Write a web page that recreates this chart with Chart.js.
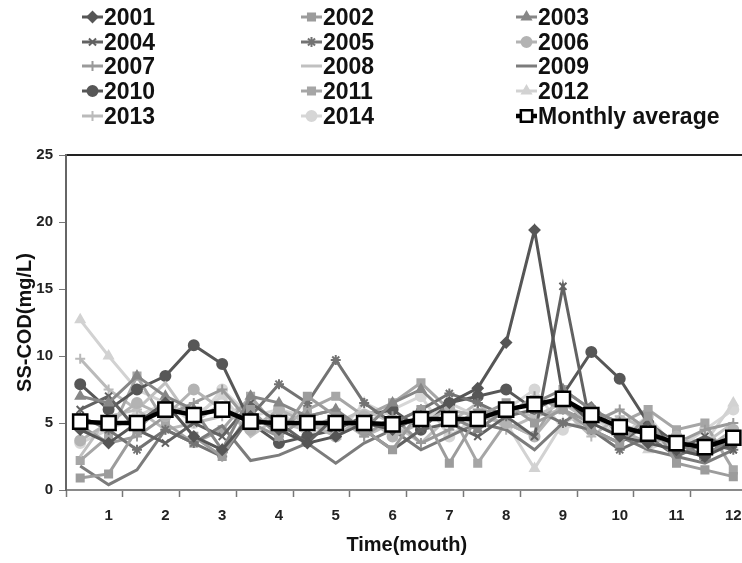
<!DOCTYPE html>
<html>
<head>
<meta charset="utf-8">
<script src="https://cdn.jsdelivr.net/npm/chart.js@4.4.1/dist/chart.umd.min.js"></script>
<style>
html, body { margin: 0; padding: 0; background: #fff; overflow: hidden; width: 742px; height: 563px; }
#wrap { position: absolute; left: 0; top: 0; width: 760px; height: 563px; }
#legend { position: absolute; left: 0; top: 0; width: 742px; height: 135px;
  font-family: "Liberation Sans", Arial, sans-serif; font-weight: bold; font-size: 23px; color: #111; }
.item { position: absolute; height: 24px; display: flex; align-items: center; white-space: nowrap; }
.item canvas { margin-right: 1px; }
</style>
</head>
<body>
<div id="wrap"><canvas id="chart"></canvas></div>
<div id="legend"></div>
<script>
// Two readings per month, month number shown under the second one
const months = ['1', '2', '3', '4', '5', '6', '7', '8', '9', '10', '11', '12'];
const halfMonthLabels = months.flatMap(m => ['', m]);

const years = ['2001', '2002', '2003', '2004', '2005', '2006', '2007',
               '2008', '2009', '2010', '2011', '2012', '2013', '2014'];

// SS-COD (mg/L) per half month
const s2001 = [4.5, 3.5, 5.0, 6.5, 4.0, 3.0, 5.5, 4.5, 3.5, 4.0, 5.0, 4.5, 5.5, 6.5, 7.6, 11.0, 19.4, 7.0, 5.0, 4.0, 3.5, 3.0, 2.5, 3.5];
const s2002 = [0.9, 1.2, 4.5, 6.5, 4.0, 2.5, 6.0, 4.0, 7.0, 5.5, 4.5, 3.0, 6.0, 2.0, 5.5, 6.5, 5.0, 6.0, 4.5, 3.5, 5.5, 2.0, 1.5, 1.0];
const s2003 = [7.0, 6.5, 8.5, 7.0, 6.0, 3.0, 7.0, 6.5, 5.5, 6.0, 4.5, 6.5, 7.5, 5.5, 4.5, 6.0, 6.5, 7.5, 6.0, 5.0, 4.0, 3.5, 2.5, 4.0];
const s2004 = [6.0, 7.0, 4.5, 3.5, 5.0, 4.0, 6.5, 5.0, 3.5, 5.5, 4.5, 3.0, 4.5, 5.0, 4.0, 5.5, 4.0, 15.2, 4.5, 3.5, 5.0, 3.0, 4.0, 3.0];
const s2005 = [5.5, 4.5, 3.0, 4.5, 3.5, 2.5, 5.5, 7.9, 6.5, 9.7, 6.5, 5.0, 6.0, 7.2, 6.5, 5.5, 6.0, 5.0, 4.5, 3.0, 4.0, 2.5, 3.5, 3.0];
const s2006 = [3.7, 5.0, 6.5, 5.5, 7.5, 6.0, 4.5, 6.0, 5.0, 4.0, 5.5, 4.0, 5.0, 6.0, 5.5, 5.0, 4.0, 6.5, 5.5, 4.5, 3.5, 4.0, 3.0, 4.5];
const s2007 = [4.8, 3.5, 4.0, 5.5, 6.5, 7.5, 5.0, 4.0, 5.5, 6.0, 4.0, 5.5, 3.5, 4.5, 6.0, 5.5, 7.0, 6.0, 5.0, 6.0, 4.5, 3.5, 4.5, 5.0];
const s2008 = [2.5, 5.5, 6.0, 8.0, 5.0, 6.5, 4.0, 5.5, 4.5, 5.0, 6.0, 5.0, 3.5, 5.5, 4.5, 6.0, 5.5, 6.5, 5.0, 4.0, 4.5, 3.0, 3.5, 5.0];
const s2009 = [1.8, 0.4, 1.5, 4.5, 3.5, 4.8, 2.2, 2.6, 3.5, 2.0, 3.5, 4.5, 3.0, 4.0, 5.0, 4.5, 3.0, 5.0, 6.5, 4.0, 3.0, 2.5, 2.0, 3.0];
const s2010 = [7.9, 6.0, 7.5, 8.5, 10.8, 9.4, 5.0, 3.5, 4.0, 4.5, 5.5, 6.0, 4.5, 6.5, 7.0, 7.5, 6.0, 7.1, 10.3, 8.3, 5.0, 3.5, 2.5, 4.0];
const s2011 = [2.2, 4.0, 8.5, 5.0, 3.5, 4.5, 7.0, 4.5, 6.0, 7.0, 5.5, 6.5, 8.0, 6.0, 2.0, 5.0, 4.0, 7.5, 6.0, 5.0, 6.0, 4.5, 5.0, 1.5];
const s2012 = [12.7, 10.0, 7.5, 6.5, 5.5, 7.0, 4.5, 6.0, 5.5, 4.0, 6.5, 5.5, 5.0, 6.5, 5.5, 5.0, 1.6, 5.0, 6.0, 4.5, 3.0, 4.0, 3.5, 6.5];
const s2013 = [9.8, 7.5, 6.0, 4.5, 5.0, 5.5, 6.5, 5.0, 4.5, 5.5, 4.0, 5.0, 6.0, 5.0, 6.5, 4.5, 5.5, 6.0, 4.0, 5.5, 4.5, 3.0, 2.5, 4.0];
const s2014 = [3.5, 4.5, 5.5, 6.5, 5.0, 7.5, 5.5, 6.0, 4.0, 5.0, 5.0, 6.0, 7.0, 4.0, 5.5, 6.0, 7.5, 4.5, 5.5, 4.0, 5.5, 3.0, 4.5, 6.0];
const monthlyAverage = [5.1, 5.0, 5.0, 6.0, 5.6, 6.0, 5.1, 5.0, 5.0, 5.0, 5.0, 4.9, 5.3, 5.3, 5.3, 6.0, 6.4, 6.8, 5.6, 4.7, 4.2, 3.5, 3.2, 3.9];

const yTicks = [0, 5, 10, 15, 20, 25];

const yearSeries = [s2001, s2002, s2003, s2004, s2005, s2006, s2007,
                    s2008, s2009, s2010, s2011, s2012, s2013, s2014];

// grey shade and marker of every year
const yearColors = ['#565656', '#9c9c9c', '#878787', '#626262', '#737373', '#b3b3b3', '#9a9a9a',
                    '#c0c0c0', '#7c7c7c', '#575757', '#a6a6a6', '#d2d2d2', '#bababa', '#d6d6d6'];
const yearMarkers = ['rectRot', 'rect', 'triangle', 'crossRot', 'star', 'circle', 'cross',
                     null, null, 'circle', 'rect', 'triangle', 'cross', 'circle'];

const fontFamily = '"Liberation Sans", Arial, sans-serif';
Chart.defaults.font.family = fontFamily;

const datasets = yearSeries.map((values, i) => ({
    label: years[i],
    data: values,
    borderColor: yearColors[i],
    backgroundColor: yearColors[i],
    borderWidth: 3,
    pointStyle: yearMarkers[i] || 'circle',
    pointRadius: yearMarkers[i] ? 5 : 0,
    pointBorderWidth: 2,
    tension: 0
}));

datasets.push({
    label: 'Monthly average',
    data: monthlyAverage,
    borderColor: '#000',
    backgroundColor: '#fff',
    borderWidth: 4.5,
    pointStyle: 'rect',
    pointRadius: 10,
    pointBackgroundColor: '#fff',
    pointBorderColor: '#000',
    pointBorderWidth: 2.5,
    tension: 0,
    order: -1
});

const chart = new Chart(document.getElementById('chart'), {
    type: 'line',
    data: { labels: halfMonthLabels, datasets: datasets },
    options: {
        responsive: true,
        maintainAspectRatio: false,
        animation: false,
        layout: { padding: { top: 155, right: 12, left: 0, bottom: 0 } },
        plugins: {
            legend: { display: false },
            tooltip: { enabled: false }
        },
        scales: {
            x: {
                type: 'category',
                offset: true,
                grid: {
                    display: true,
                    drawOnChartArea: false,
                    offset: true,
                    tickLength: 7,
                    tickWidth: 1.5,
                    tickColor: c => (c.index % 2 === 0 ? '#777' : 'rgba(0,0,0,0)')
                },
                border: { display: true, color: '#8a8a8a', width: 2 },
                ticks: {
                    autoSkip: false,
                    maxRotation: 0,
                    padding: 10,
                    color: '#222',
                    font: { size: 15, weight: 'bold' }
                },
                title: {
                    display: true,
                    text: 'Time(mouth)',
                    color: '#111',
                    font: { size: 20, weight: 'bold' },
                    padding: { top: 0, bottom: 6 }
                },
                afterFit: s => { s.height = 73; }
            },
            xTop: {
                type: 'category',
                position: 'top',
                offset: true,
                grid: { display: false, drawTicks: false },
                ticks: { display: false },
                border: { display: true, color: '#222', width: 2 },
                afterFit: s => { s.height = 0; }
            },
            y: {
                min: 0,
                max: 25,
                afterBuildTicks: s => { s.ticks = yTicks.map(v => ({ value: v })); },
                grid: {
                    display: true,
                    drawOnChartArea: false,
                    tickLength: 7,
                    color: '#777'
                },
                border: { display: true, color: '#666', width: 2 },
                ticks: {
                    padding: 6,
                    color: '#222',
                    font: { size: 15, weight: 'bold' }
                },
                title: {
                    display: true,
                    text: 'SS-COD(mg/L)',
                    color: '#111',
                    font: { size: 20, weight: 'bold' },
                    padding: { top: 13, bottom: 0 }
                },
                afterFit: s => { s.width = 66; }
            }
        }
    }
});

// Legend in three columns above the plot, built from the datasets
const legendColX = [82, 301, 516];
const legendRowY = [17, 42, 66, 91, 116];

function drawIcon(ds) {
    const icon = document.createElement('canvas');
    icon.width = 21;
    icon.height = 20;
    const ctx = icon.getContext('2d');
    ctx.strokeStyle = ds.borderColor;
    ctx.lineWidth = ds.borderWidth;
    ctx.beginPath();
    ctx.moveTo(0, 10);
    ctx.lineTo(21, 10);
    ctx.stroke();
    if (ds.pointRadius > 0) {
        ctx.fillStyle = ds.pointBackgroundColor || ds.backgroundColor;
        ctx.strokeStyle = ds.pointBorderColor || ds.borderColor;
        ctx.lineWidth = ds.pointBorderWidth;
        const r = Math.min(ds.pointRadius, 8);
        if (Chart.helpers && Chart.helpers.drawPoint) {
            Chart.helpers.drawPoint(ctx, { pointStyle: ds.pointStyle, radius: r, borderWidth: ds.pointBorderWidth, rotation: 0 }, 10.5, 10);
        } else {
            ctx.fillRect(10.5 - r / 2, 10 - r / 2, r, r);
        }
    }
    return icon;
}

function buildLegend() {
    const box = document.getElementById('legend');
    chart.data.datasets.forEach((ds, i) => {
        const item = document.createElement('div');
        item.className = 'item';
        item.style.left = legendColX[i % 3] + 'px';
        item.style.top = (legendRowY[Math.floor(i / 3)] - 12) + 'px';
        item.appendChild(drawIcon(ds));
        const text = document.createElement('span');
        text.textContent = ds.label;
        item.appendChild(text);
        box.appendChild(item);
    });
}

buildLegend();
</script>
</body>
</html>
